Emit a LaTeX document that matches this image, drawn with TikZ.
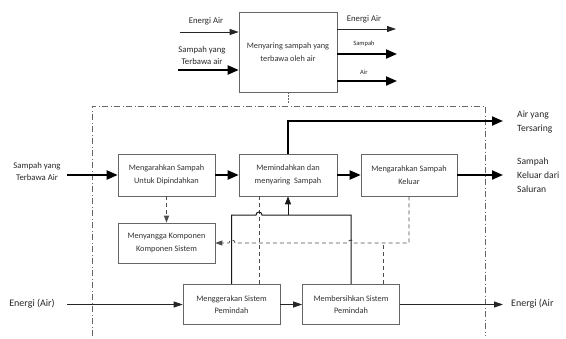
\documentclass[tikz,border=0pt]{standalone}
\usepackage{fontspec}
\setmainfont{Carlito}
\usetikzlibrary{arrows.meta}
\begin{document}
\begin{tikzpicture}[x=1pt,y=-1pt,
 box/.style={draw=black!60, line width=0.6pt, fill=white, align=center, font=\fontsize{8.3}{12.5}\selectfont, text=black!80, inner sep=0pt},
 lbl/.style={align=center, text=black!85, inner sep=0pt},
 rlbl/.style={anchor=west, text=black!85, inner sep=0pt, font=\fontsize{9.6}{13.5}\selectfont},
 thinarr/.style={line width=0.8pt, draw=black!85, -{Triangle[length=9pt,width=6pt]}},
 thickarr/.style={line width=2pt, draw=black, -{Triangle[length=11pt,width=9pt]}},
 dsh/.style={line width=0.8pt, draw=black!70, dash pattern=on 4pt off 3pt},
 dd/.style={line width=0.7pt, draw=black!60, dash pattern=on 6pt off 2.5pt on 1pt off 2.5pt}]
\useasboundingbox (0,0) rectangle (566,338);

% boxes
\node[box, minimum width=98pt, minimum height=80pt] (T) at (288,52) {Menyaring sampah yang\\terbawa oleh air};
\node[box, minimum width=97pt, minimum height=42pt] (A) at (166.5,175) {Mengarahkan Sampah\\Untuk Dipindahkan};
\node[box, minimum width=98pt, minimum height=42pt] (B) at (288,175) {Memindahkan dan\\menyaring\ \ Sampah};
\node[box, minimum width=96pt, minimum height=42pt] (C) at (409,175) {Mengarahkan Sampah\\Keluar};
\node[box, minimum width=97pt, minimum height=40pt] (D) at (166.5,243) {Menyangga Komponen\\Komponen Sistem};
\node[box, minimum width=97pt, minimum height=40pt] (E) at (231.5,304.5) {Menggerakan Sistem\\Pemindah};
\node[box, minimum width=97pt, minimum height=40pt] (F) at (351,304.5) {Membersihkan Sistem\\Pemindah};

% top box inputs / outputs
\node[lbl, font=\fontsize{8.7}{12}\selectfont] (tEin) at (206,21) {Energi Air};
\node[lbl, font=\fontsize{8.7}{12}\selectfont] (tSin) at (202,56) {Sampah yang\\Terbawa air};
\coordinate (tEs) at (180,32);
\coordinate (tSs) at (178,70);
\draw[thinarr] (tEs) -- (tEs -| T.west);
\draw[thickarr] (tSs) -- (tSs -| T.west);

\node[lbl, font=\fontsize{8.7}{12}\selectfont] (tEout) at (364,19) {Energi Air};
\node[lbl, font=\fontsize{6.5}{8}\selectfont] (tSout) at (364,44) {Sampah};
\node[lbl, font=\fontsize{6.5}{8}\selectfont] (tAout) at (364,72) {Air};
\coordinate (tEe) at (396,29);
\coordinate (tSe) at (397,54);
\coordinate (tAe) at (397,81);
\draw[thinarr] (tEe -| T.east) -- (tEe);
\draw[thickarr] (tSe -| T.east) -- (tSe);
\draw[thickarr] (tAe -| T.east) -- (tAe);

\coordinate (tick) at (288,104);
\draw[black!60, line width=0.6pt, dash pattern=on 1.5pt off 1.5pt] (T.south) -- (tick);

% system boundary
\coordinate (f1) at (92,336);
\coordinate (f2) at (92,106);
\coordinate (f3) at (485,106);
\coordinate (f4) at (485,336);
\draw[dd] (f1) -- (f2) -- (f3) -- (f4);

% row 1
\node[lbl, font=\fontsize{8.7}{12}\selectfont] (inS) at (37,172) {Sampah yang\\Terbawa Air};
\coordinate (inSs) at (67,175);
\draw[thickarr] (inSs) -- (A.west);
\draw[thickarr] (A.east) -- (B.west);
\draw[thickarr] (B.east) -- (C.west);
\coordinate (outS) at (503,175);
\draw[thickarr] (C.east) -- (outS);
\node[rlbl] (outS1) at (517,162) {Sampah};
\node[rlbl] (outS2) at (517,175.5) {Keluar dari};
\node[rlbl] (outS3) at (517,189) {Saluran};

\coordinate (up1) at (288,121);
\coordinate (outA) at (503,121);
\draw[thickarr] (B.north) -- (up1) -- (outA);
\node[rlbl] (outA1) at (517,115.5) {Air yang};
\node[rlbl] (outA2) at (517,129.5) {Tersaring};

% dashed links
\draw[dsh, -{Triangle[length=7pt,width=5pt]}] (A.south) -- (D.north);
\coordinate (bd) at (259,284.5);
\draw[dsh] (B.south -| bd) -- (bd);
\coordinate (cd) at (409,243);
\coordinate (fd) at (383,243);
\draw[dsh] (F.north -| fd) -- (fd);
\draw[dsh, -{Triangle[length=7pt,width=5pt]}] (C.south) -- (cd) -- (354,243)
  .. controls (354,239) and (348,239) .. (348,243) -- (235,243)
  .. controls (235,239) and (229,239) .. (229,243) -- (D.east);

% solid drive frame
\coordinate (s1) at (231.5,215);
\coordinate (s2) at (351,215);
\draw[line width=1pt, black!90] (E.north) -- (s1) -- (256,215)
  .. controls (256,211) and (262,211) .. (262,215) -- (s2) -- (F.north);
\coordinate (sm) at (288,215);
\draw[line width=1pt, black!90, -{Triangle[length=8pt,width=6pt]}] (sm) -- (B.south);

% energy row
\node[lbl, font=\fontsize{10}{12}\selectfont] (inE) at (32,303.5) {Energi (Air)};
\coordinate (inEs) at (67,304.5);
\draw[thinarr] (inEs) -- (E.west);
\draw[thinarr] (E.east) -- (F.west);
\coordinate (outE) at (503,304.5);
\draw[thinarr] (F.east) -- (outE);
\node[lbl, anchor=west, font=\fontsize{10}{12}\selectfont] (outEl) at (511,303.5) {Energi (Air};
\end{tikzpicture}
\end{document}
